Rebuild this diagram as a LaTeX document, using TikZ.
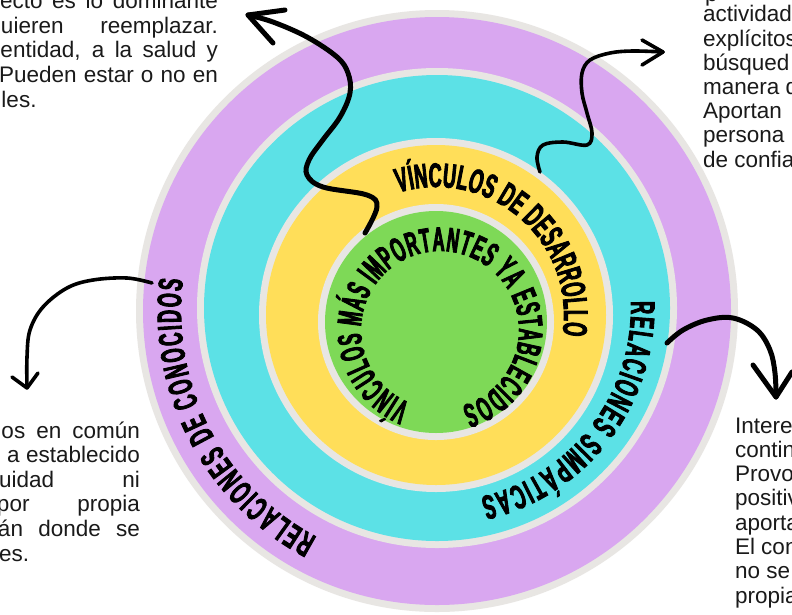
\documentclass[tikz,border=0pt]{standalone}
\usepackage{fontspec}
\setmainfont{Liberation Sans}
\newfontfamily\ringfont[FakeStretch=0.53, FakeBold=2.5]{Liberation Sans}
\newfontfamily\ringfontg[FakeStretch=0.49, FakeBold=2.5]{Liberation Sans}
\usetikzlibrary{decorations.text}
\definecolor{ringgray}{HTML}{E8E6E3}
\definecolor{lila}{HTML}{D9A7F0}
\definecolor{cian}{HTML}{5CE1E6}
\definecolor{amarillo}{HTML}{FFDE59}
\definecolor{verde}{HTML}{7ED957}
\definecolor{ink}{HTML}{1A1A1A}
\begin{document}
\begin{tikzpicture}[x=1pt,y=1pt,
  para/.style={anchor=base west, inner sep=0pt, outer sep=0pt, font=\fontsize{22.5}{24.6}\selectfont, text=ink},
  ringtxt/.style={decorate, decoration={text along path, text align=fit to path, text={|\ringfont\bfseries\fontsize{34}{34}\selectfont|#1}}},
  ringtxtg/.style={decorate, decoration={text along path, text align=fit to path, text={|\ringfontg\bfseries\fontsize{34}{34}\selectfont|#1}}},
  curvy/.style={line cap=round, line join=round, draw=black}]
\useasboundingbox (0,0) rectangle (792,-614);
\clip (0,0) rectangle (792,-614);
\fill[white] (0,0) rectangle (792,-614);

% rings
\coordinate (cP) at (437,-311);
\coordinate (cC) at (437,-308);
\coordinate (cY) at (436,-315);
\coordinate (cG) at (436,-322);
\fill[ringgray] (cP) circle[radius=301];
\fill[lila] (cP) circle[radius=294];
\fill[ringgray] (cC) circle[radius=240];
\fill[cian] (cC) circle[radius=233];
\fill[ringgray] (cY) circle[radius=177];
\fill[amarillo] (cY) circle[radius=170];
\fill[ringgray] (cG) circle[radius=118];
\fill[verde] (cG) circle[radius=111];

% ring labels
\path[shift={(440,-330)}, ringtxtg={VÍNCULOS MÁS IMPORTANTES YA ESTABLECIDOS}]
  (248:79) arc[start angle=248, end angle=-74, radius=79];
\path[shift={(436,-315)}, ringtxt={VÍNCULOS DE DESARROLLO}]
  (107:128) arc[start angle=107, end angle=-9, radius=128];
\path[shift={(437,-308)}, ringtxt={RELACIONES SIMPÁTICAS}]
  (2:194) arc[start angle=2, end angle=-77, radius=194];
\path[shift={(437,-311)}, ringtxt={RELACIONES DE CONOCIDOS}]
  (242:256) arc[start angle=242, end angle=173, radius=256];

% paragraphs (cut by the page edges)
\node[para] (tl1) at (0,-8) {\makebox[218pt][s]{ecto es lo dominante}};
\node[para] (tl2) at (1,-33) {\makebox[217pt][s]{uieren reemplazar.}};
\node[para] (tl3) at (0.5,-57.5) {\makebox[217.5pt][s]{entidad, a la salud y}};
\node[para] (tl4) at (-1,-82) {\makebox[219pt][s]{Pueden estar o no en}};
\node[para] (tl5) at (1.5,-107) {les.};

\node[para] (tr0) at (705,-1) {p};
\node[para] (tr1) at (703,-21.7) {actividad};
\node[para] (tr2) at (703,-46) {explícitos};
\node[para] (tr3) at (703,-70.2) {búsqued};
\node[para] (tr4) at (703,-94.4) {manera d};
\node[para] (tr5) at (703,-118.6) {Aportan};
\node[para] (tr6) at (703,-142.8) {persona};
\node[para] (tr7) at (703,-167) {de confia};

\node[para] (bl1) at (1.5,-438) {\makebox[138.5pt][s]{os en común}};
\node[para] (bl2) at (7,-462.6) {\makebox[133pt][s]{a establecido}};
\node[para] (bl3) at (-1,-487.2) {\makebox[141pt][s]{uidad ni}};
\node[para] (bl4) at (-3,-511.8) {\makebox[143pt][s]{por propia}};
\node[para] (bl5) at (-2,-536.4) {\makebox[142pt][s]{án donde se}};
\node[para] (bl6) at (-1,-561) {es.};

\node[para] (br1) at (735,-433) {Intere};
\node[para] (br2) at (735,-457.3) {contin};
\node[para] (br3) at (735,-481.6) {Provo};
\node[para] (br4) at (735,-505.9) {positiv};
\node[para] (br5) at (735,-530.2) {aporta};
\node[para] (br6) at (735,-554.5) {El con};
\node[para] (br7) at (735,-578.8) {no se};
\node[para] (br8) at (735,-603) {propia};

% arrows
\coordinate (a1s) at (365,-233);
\coordinate (a1t) at (248,-15);
\draw[curvy, line width=5pt] plot[smooth, tension=0.6] coordinates {
  (365,-233) (377,-207) (367,-195) (323,-187) (307,-175) (309,-160) (322,-141)
  (340,-117) (350,-93) (348,-73) (337,-57) (307,-37) (273,-22) (248,-15)};
\draw[curvy, line width=5pt] (285,-10) -- (a1t) -- (273,-43);

\coordinate (a2s) at (540,-172);
\coordinate (a2t) at (663,-52);
\draw[curvy, line width=3.6pt] plot[smooth, tension=0.6] coordinates {
  (540,-172) (537,-157) (543,-145) (563,-142) (587,-145) (592,-133) (587,-113)
  (582,-93) (582,-73) (590,-60) (610,-53) (633,-51) (663,-52)};
\draw[curvy, line width=3.6pt] (642,-40) -- (a2t) -- (642,-65);

\coordinate (a3s) at (152,-283);
\coordinate (a3t) at (27,-388);
\draw[curvy, line width=3.6pt] plot[smooth, tension=0.6] coordinates {
  (152,-283) (127,-278) (93,-280) (67,-288) (43,-307) (30,-330) (27,-357) (27,-388)};
\draw[curvy, line width=3.6pt] (12,-377) -- (a3t) -- (38,-373);

\coordinate (a4s) at (667,-343);
\coordinate (a4t) at (776,-397);
\draw[curvy, line width=5pt] plot[smooth, tension=0.6] coordinates {
  (667,-343) (683,-330) (707,-320) (733,-318) (757,-330) (770,-350) (775,-373) (776,-397)};
\draw[curvy, line width=5pt] (753,-365) -- (a4t) -- (792,-372);
\end{tikzpicture}
\end{document}
